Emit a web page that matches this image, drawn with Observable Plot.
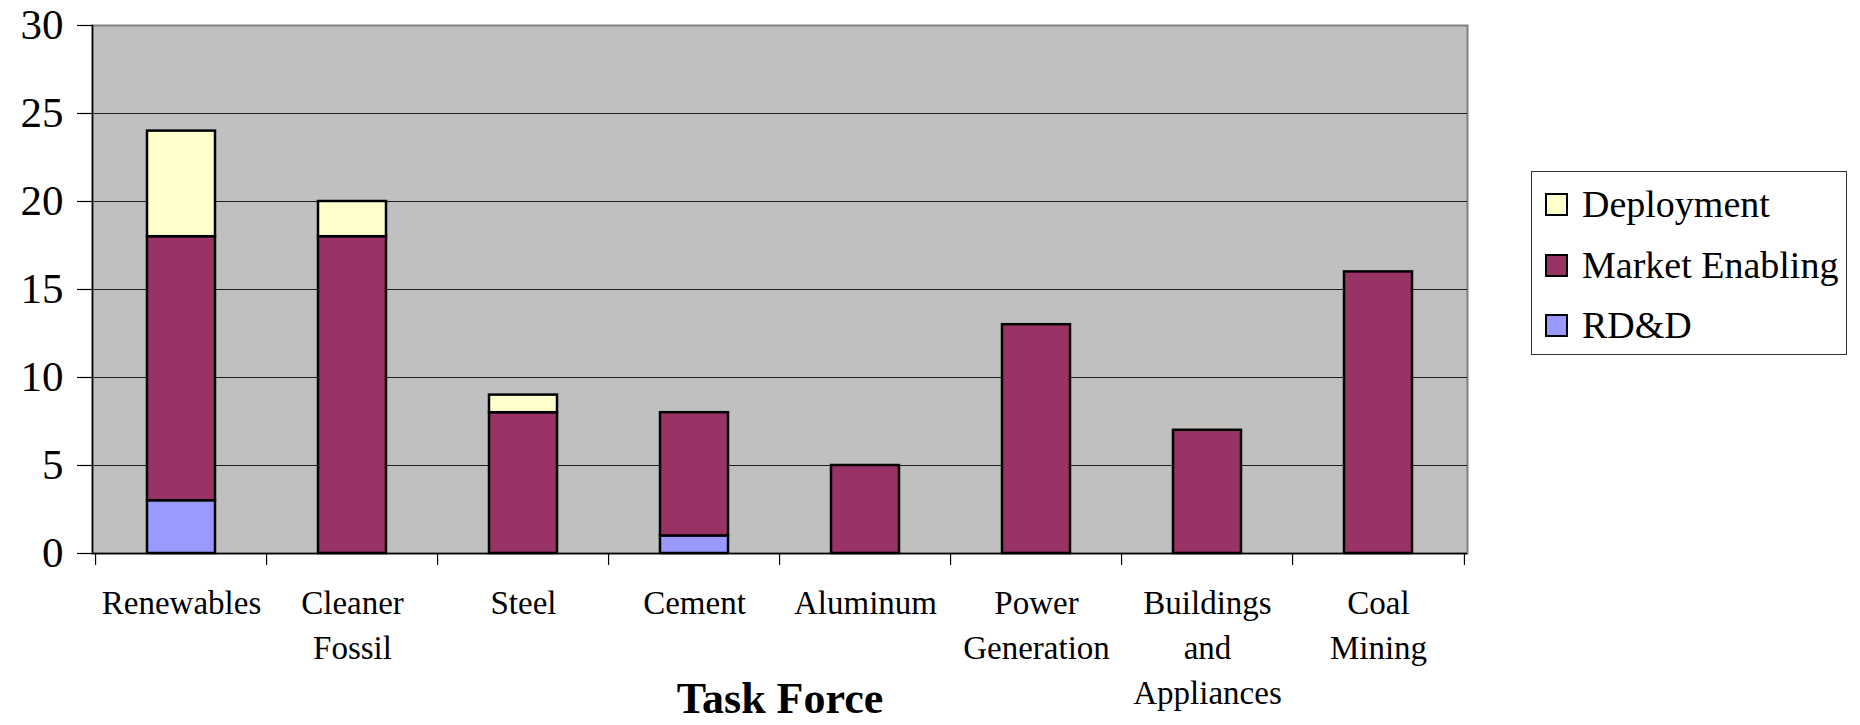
<!DOCTYPE html>
<html>
<head>
<meta charset="utf-8">
<script src="https://cdn.jsdelivr.net/npm/d3@7"></script>
<script src="https://cdn.jsdelivr.net/npm/@observablehq/plot@0.6"></script>
<style>
  html, body { margin: 0; padding: 0; background: #fff; }
  #wrap { position: relative; width: 1860px; height: 725px; font-family: "Liberation Serif", "Times New Roman", serif; }
  #legend { position: absolute; left: 1531px; top: 171px; width: 314px; height: 182px; border: 1px solid #333; background: #fff; box-sizing: content-box; }
  .item { position: absolute; left: 13px; display: flex; align-items: center; font-size: 38px; letter-spacing: 0px; color: #000; white-space: nowrap; }
  .sw { width: 19px; height: 19px; border: 2px solid #000; margin-right: 14px; }
</style>
</head>
<body>
<div id="wrap">
  <div id="chart"></div>
  <div id="legend"></div>
</div>
<script>
const categories = ["Renewables", "Cleaner\nFossil", "Steel", "Cement", "Aluminum", "Power\nGeneration", "Buildings\nand\nAppliances", "Coal\nMining"];
const seriesNames = ["RD&D", "Market Enabling", "Deployment"];
const seriesColors = ["#9999FF", "#993366", "#FFFFCC"];
const rdd        = [3, 0, 0, 1, 0, 0, 0, 0];
const market     = [15, 18, 8, 7, 5, 13, 7, 16];
const deployment = [6, 2, 1, 0, 0, 0, 0, 0];
const yTicks = [0, 5, 10, 15, 20, 25, 30];
const xTitle = "Task Force";

const seriesValues = [rdd, market, deployment];
const data = [];
seriesNames.forEach((s, i) => {
  categories.forEach((c, j) => {
    const v = seriesValues[i][j];
    if (v > 0) data.push({category: c, series: s, value: v});
  });
});

const W = 1860, H = 725;
const mL = 92, mR = 393, mT = 25, mB = 172;
const step = (W - mL - mR) / categories.length;

const chart = Plot.plot({
  width: W,
  height: H,
  marginLeft: mL,
  marginRight: mR,
  marginTop: mT,
  marginBottom: mB,
  style: {fontFamily: "'Liberation Serif', 'Times New Roman', serif", color: "#000", background: "transparent"},
  x: {domain: categories, paddingInner: 0.6, paddingOuter: 0.3, axis: null, label: null},
  y: {domain: [0, 30], axis: null, label: null},
  color: {domain: seriesNames, range: seriesColors},
  marks: [
    Plot.frame({fill: "#C0C0C0", stroke: "#808080", strokeWidth: 2}),
    Plot.gridY(yTicks.filter(d => d > 0 && d < 30), {stroke: "#000", strokeOpacity: 0.85, strokeWidth: 1}),
    Plot.barY(data, {x: "category", y: "value", fill: "series", stroke: "#000", strokeWidth: 2.5}),
    Plot.ruleY([0], {stroke: "#000", strokeWidth: 1.5}),
    Plot.frame({anchor: "left", stroke: "#000", strokeWidth: 1.5}),
    Plot.axisY({ticks: yTicks, label: null, tickSize: 15, tickPadding: 14, fontSize: 43, tickFormat: d => String(d), stroke: "#000", strokeWidth: 1.2}),
    Plot.ruleX(categories, {x: d => d, dx: -step / 2, y1: 0, y2: -0.68, stroke: "#000", strokeWidth: 1.2}),
    Plot.ruleX(categories.slice(-1), {x: d => d, dx: step / 2, y1: 0, y2: -0.68, stroke: "#000", strokeWidth: 1.2}),
    Plot.axisX({label: null, tickSize: 0, tickPadding: 29, fontSize: 33, lineHeight: 1.36, tickFormat: d => d}),
    Plot.text([xTitle], {frameAnchor: "bottom", lineAnchor: "top", dy: 128, fontSize: 44, fontWeight: "bold", letterSpacing: "-1px"})
  ]
});
document.getElementById("chart").appendChild(chart);

const legend = document.getElementById("legend");
const legendOrder = [2, 1, 0];
const tops = [10, 71, 131];
legendOrder.forEach((i, k) => {
  const item = document.createElement("div");
  item.className = "item";
  item.style.top = tops[k] + "px";
  const sw = document.createElement("div");
  sw.className = "sw";
  sw.style.background = seriesColors[i];
  const t = document.createElement("span");
  t.textContent = seriesNames[i];
  item.appendChild(sw);
  item.appendChild(t);
  legend.appendChild(item);
});
</script>
</body>
</html>
